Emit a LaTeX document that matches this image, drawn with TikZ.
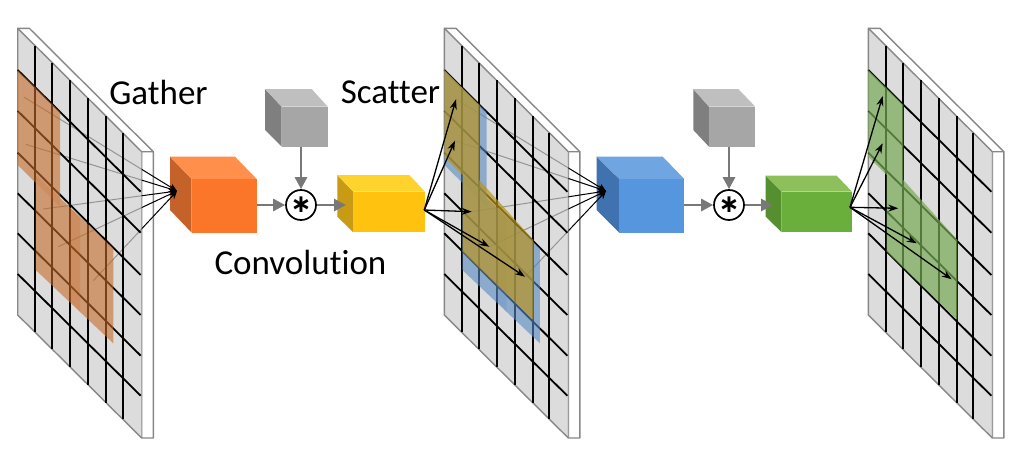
\documentclass[tikz,border=0pt]{standalone}
\usepackage{fontspec}
\setmainfont[Ligatures=NoCommon]{Carlito}
\newfontfamily\astfont{DejaVu Sans}
\usetikzlibrary{arrows.meta,calc}
\definecolor{arrowgray}{RGB}{120,120,120}
\definecolor{edgegray}{RGB}{135,135,135}
\definecolor{facegray}{RGB}{206,206,206}
\definecolor{patchorange}{RGB}{198,108,40}
\definecolor{patchblue}{RGB}{87,137,195}
\definecolor{patcholive}{RGB}{183,149,34}
\definecolor{patchgreen}{RGB}{120,170,84}
\tikzset{
  flowarrow/.style={draw=arrowgray,line width=2.8pt,-{Triangle[length=12pt,width=12pt]}},
  gatherline/.style={draw=black,line width=1pt,-{Stealth[length=8pt,width=7pt]}},
  scatterline/.style={draw=black,line width=1.3pt,-{Stealth[length=10pt,width=7pt]}},
  conv/.style={circle,draw=black,line width=1.7pt,fill=white,minimum size=30pt,inner sep=0pt},
  asterisk/.style={inner sep=0pt,font=\astfont\bfseries\fontsize{25}{25}\selectfont},
  label/.style={inner sep=0pt,font=\fontsize{35}{40}\selectfont},
  gridline/.style={draw=black,line width=1.8pt},
  paneledge/.style={draw=edgegray,line width=1.4pt,line join=round},
  frontface/.style={inner sep=0pt,outer sep=0pt,anchor=north west}
}
% #1 name, #2 back-left x, #3 back-top y, #4 front-left x, #5 front-right x, #6 front-top y, #7 front-bottom y, #8 back-right x, #9 left-bottom y
\newcommand{\cubeshape}[9]{%
  \fill[cubeside] (#2,#3) -- (#4,#6) -- (#4,#7) -- (#2,#9) -- cycle;
  \fill[cubetop] (#2,#3) -- (#8,#3) -- (#5,#6) -- (#4,#6) -- cycle;
  \path let \p1=(#4,#6), \p2=(#5,#7), \n1={\x2-\x1}, \n2={\y1-\y2} in
    node[frontface,fill=cubefront,minimum width=\n1,minimum height=\n2] (#1) at (#4,#6) {};
}
\newcommand{\panelback}{%
  \fill[white] (17.7,28.3) -- (29.3,28.3) -- (153.3,151.7) -- (141.7,151.7) -- cycle;
  \fill[white] (141.7,151.7) -- (153.3,151.7) -- (153.3,438) -- (141.7,438) -- cycle;
  \draw[paneledge] (17.7,28.3) -- (29.3,28.3) -- (153.3,151.7) -- (153.3,438) -- (141.7,438) -- (141.7,151.7) -- (153.3,151.7);
}
\newcommand{\panelface}{%
  \fill[facegray,fill opacity=0.72] (17.7,28.3) -- (141.7,151.7) -- (141.7,438) -- (17.7,315) -- cycle;
  \draw[paneledge] (141.7,151.7) -- (17.7,28.3) -- (17.7,315) -- (141.7,438);
  \foreach \X in {35,52.3,70,88,106,122.7}{
    \draw[gridline] (\X,{28.3+(\X-17.7)*0.995}) -- (\X,{315+(\X-17.7)*0.995});
  }
  \foreach \A/\B in {70/191.7,111/232.7,152.7/275,193.3/315,233.3/355.7,274/395.7}{
    \draw[gridline] (17.7,\A) -- (140.7,\B);
  }
}
% union of the three patches, then a faint tint where they overlap
\newcommand{\patchunion}[2]{%
  \fill[#1,fill opacity=#2] (17.7,70) -- (60,112) -- (60,198) -- (113.3,248.3) -- (113.3,343.3) -- (35.7,270) -- (35.7,182.7) -- (17.7,165) -- cycle;
  \fill[#1,fill opacity=0.22] (35.7,175) -- (60,198) -- (60,206.7) -- (35.7,182.7) -- cycle;
  \fill[#1,fill opacity=0.22] (70,207.5) -- (80,217) -- (80,311.7) -- (70,300) -- cycle;
}
\begin{document}
\begin{tikzpicture}[x=1pt,y=-1pt]
\useasboundingbox (0,0) rectangle (1024,461);
% cubes
\definecolor{cubetop}{RGB}{255,143,74}\definecolor{cubefront}{RGB}{252,118,42}\definecolor{cubeside}{RGB}{196,98,42}
\cubeshape{orangecube}{170}{156.7}{191.7}{256.7}{179}{232.7}{235}{210}
\definecolor{cubetop}{RGB}{191,191,191}\definecolor{cubefront}{RGB}{166,166,166}\definecolor{cubeside}{RGB}{127,127,127}
\cubeshape{graycubea}{265}{89}{281.7}{327.7}{106.7}{146.7}{311.7}{130}
\cubeshape{graycubeb}{693.3}{89}{709}{755.3}{106.7}{146.7}{738.3}{130}
\definecolor{cubetop}{RGB}{255,211,46}\definecolor{cubefront}{RGB}{255,194,14}\definecolor{cubeside}{RGB}{201,154,20}
\cubeshape{yellowcube}{337.3}{175}{353.3}{425}{191.7}{232.3}{409.3}{216.7}
\definecolor{cubetop}{RGB}{111,165,224}\definecolor{cubefront}{RGB}{85,150,222}\definecolor{cubeside}{RGB}{63,114,174}
\cubeshape{bluecube}{596.7}{156.7}{619.3}{684.3}{179}{232.7}{662.7}{210}
\definecolor{cubetop}{RGB}{141,192,90}\definecolor{cubefront}{RGB}{106,174,60}\definecolor{cubeside}{RGB}{86,143,48}
\cubeshape{greencube}{765.7}{175.7}{781.7}{852}{191.7}{232.3}{836.7}{216.7}
% convolution circles
\node[conv] (conva) at (301,205) {};
\node[conv] (convb) at (729,205) {};
\node[asterisk] (asta) at (301,205) {∗};
\node[asterisk] (astb) at (729,205) {∗};
% connector end points
\coordinate (orangeout) at (256.7,205);
\coordinate (yellowin) at (346,205);
\coordinate (blueout) at (684.3,205);
\coordinate (greenin) at (773,205);
\coordinate (orangetip) at (177,191);
\coordinate (bluetip) at (606,191);
\coordinate (yellowout) at (424.3,210);
\coordinate (greenout) at (850,207.3);
\coordinate (grayaout) at (301,146.7);
\coordinate (graybout) at (729,146.7);
\draw[flowarrow] (orangeout) -- (conva);
\draw[flowarrow] (conva) -- (yellowin);
\draw[flowarrow] (grayaout) -- (conva);
\draw[flowarrow] (blueout) -- (convb);
\draw[flowarrow] (convb) -- (greenin);
\draw[flowarrow] (graybout) -- (convb);
% panel 1
\panelback
\coordinate (pa) at (24.3,97.3);
\coordinate (pb) at (25.7,144.3);
\coordinate (pc) at (43.3,209);
\coordinate (pd) at (58.3,246.7);
\coordinate (pe) at (93.3,280.7);
\foreach \s in {pa,pb,pc,pd,pe}{\draw[gatherline] (\s) -- (orangetip);}
\panelface
\patchunion{patchorange}{0.6}
% panel 2
\begin{scope}[shift={(426.6,0)}]
\panelback
\coordinate (qa) at (29.4,99.3);
\coordinate (qb) at (28.4,140.7);
\coordinate (qc) at (45.1,211.7);
\coordinate (qd) at (62.7,246.7);
\coordinate (qe) at (98.4,276.7);
\foreach \s in {qa,qb,qc,qd,qe}{\draw[gatherline] (\s) -- (bluetip);}
\panelface
\patchunion{patchblue}{0.6}
\fill[patcholive,fill opacity=0.7] (17.7,70) -- (52.7,105) -- (52.7,180) -- (106.7,240) -- (106.7,320) -- (36.1,251.7) -- (36.1,175) -- (17.7,156.7) -- cycle;
\fill[patcholive,fill opacity=0.12] (71,200) -- (86,217) -- (86,299) -- (71,285) -- cycle;
\end{scope}
\foreach \s in {qa,qb,qc,qd,qe}{\draw[scatterline] (yellowout) -- (\s);}
% panel 3
\begin{scope}[shift={(850.6,0)}]
\panelback
\panelface
\fill[patchgreen,fill opacity=0.7] (17.7,70) -- (52.7,105) -- (52.7,180) -- (106.7,240) -- (106.7,320) -- (36.1,251.7) -- (36.1,175) -- (17.7,156.7) -- cycle;
\coordinate (ra) at (32.1,96);
\coordinate (rb) at (32.1,143.3);
\coordinate (rc) at (47.7,208.3);
\coordinate (rd) at (66.1,243.3);
\coordinate (re) at (101.1,279.3);
\end{scope}
\foreach \s in {ra,rb,rc,rd,re}{\draw[scatterline] (greenout) -- (\s);}
% labels
\node[label] (gather) at (158.5,92) {Gather};
\node[label] (scatter) at (390.5,92) {Scatter};
\node[label] (convolution) at (300.5,262) {Convolution};
\end{tikzpicture}
\end{document}
